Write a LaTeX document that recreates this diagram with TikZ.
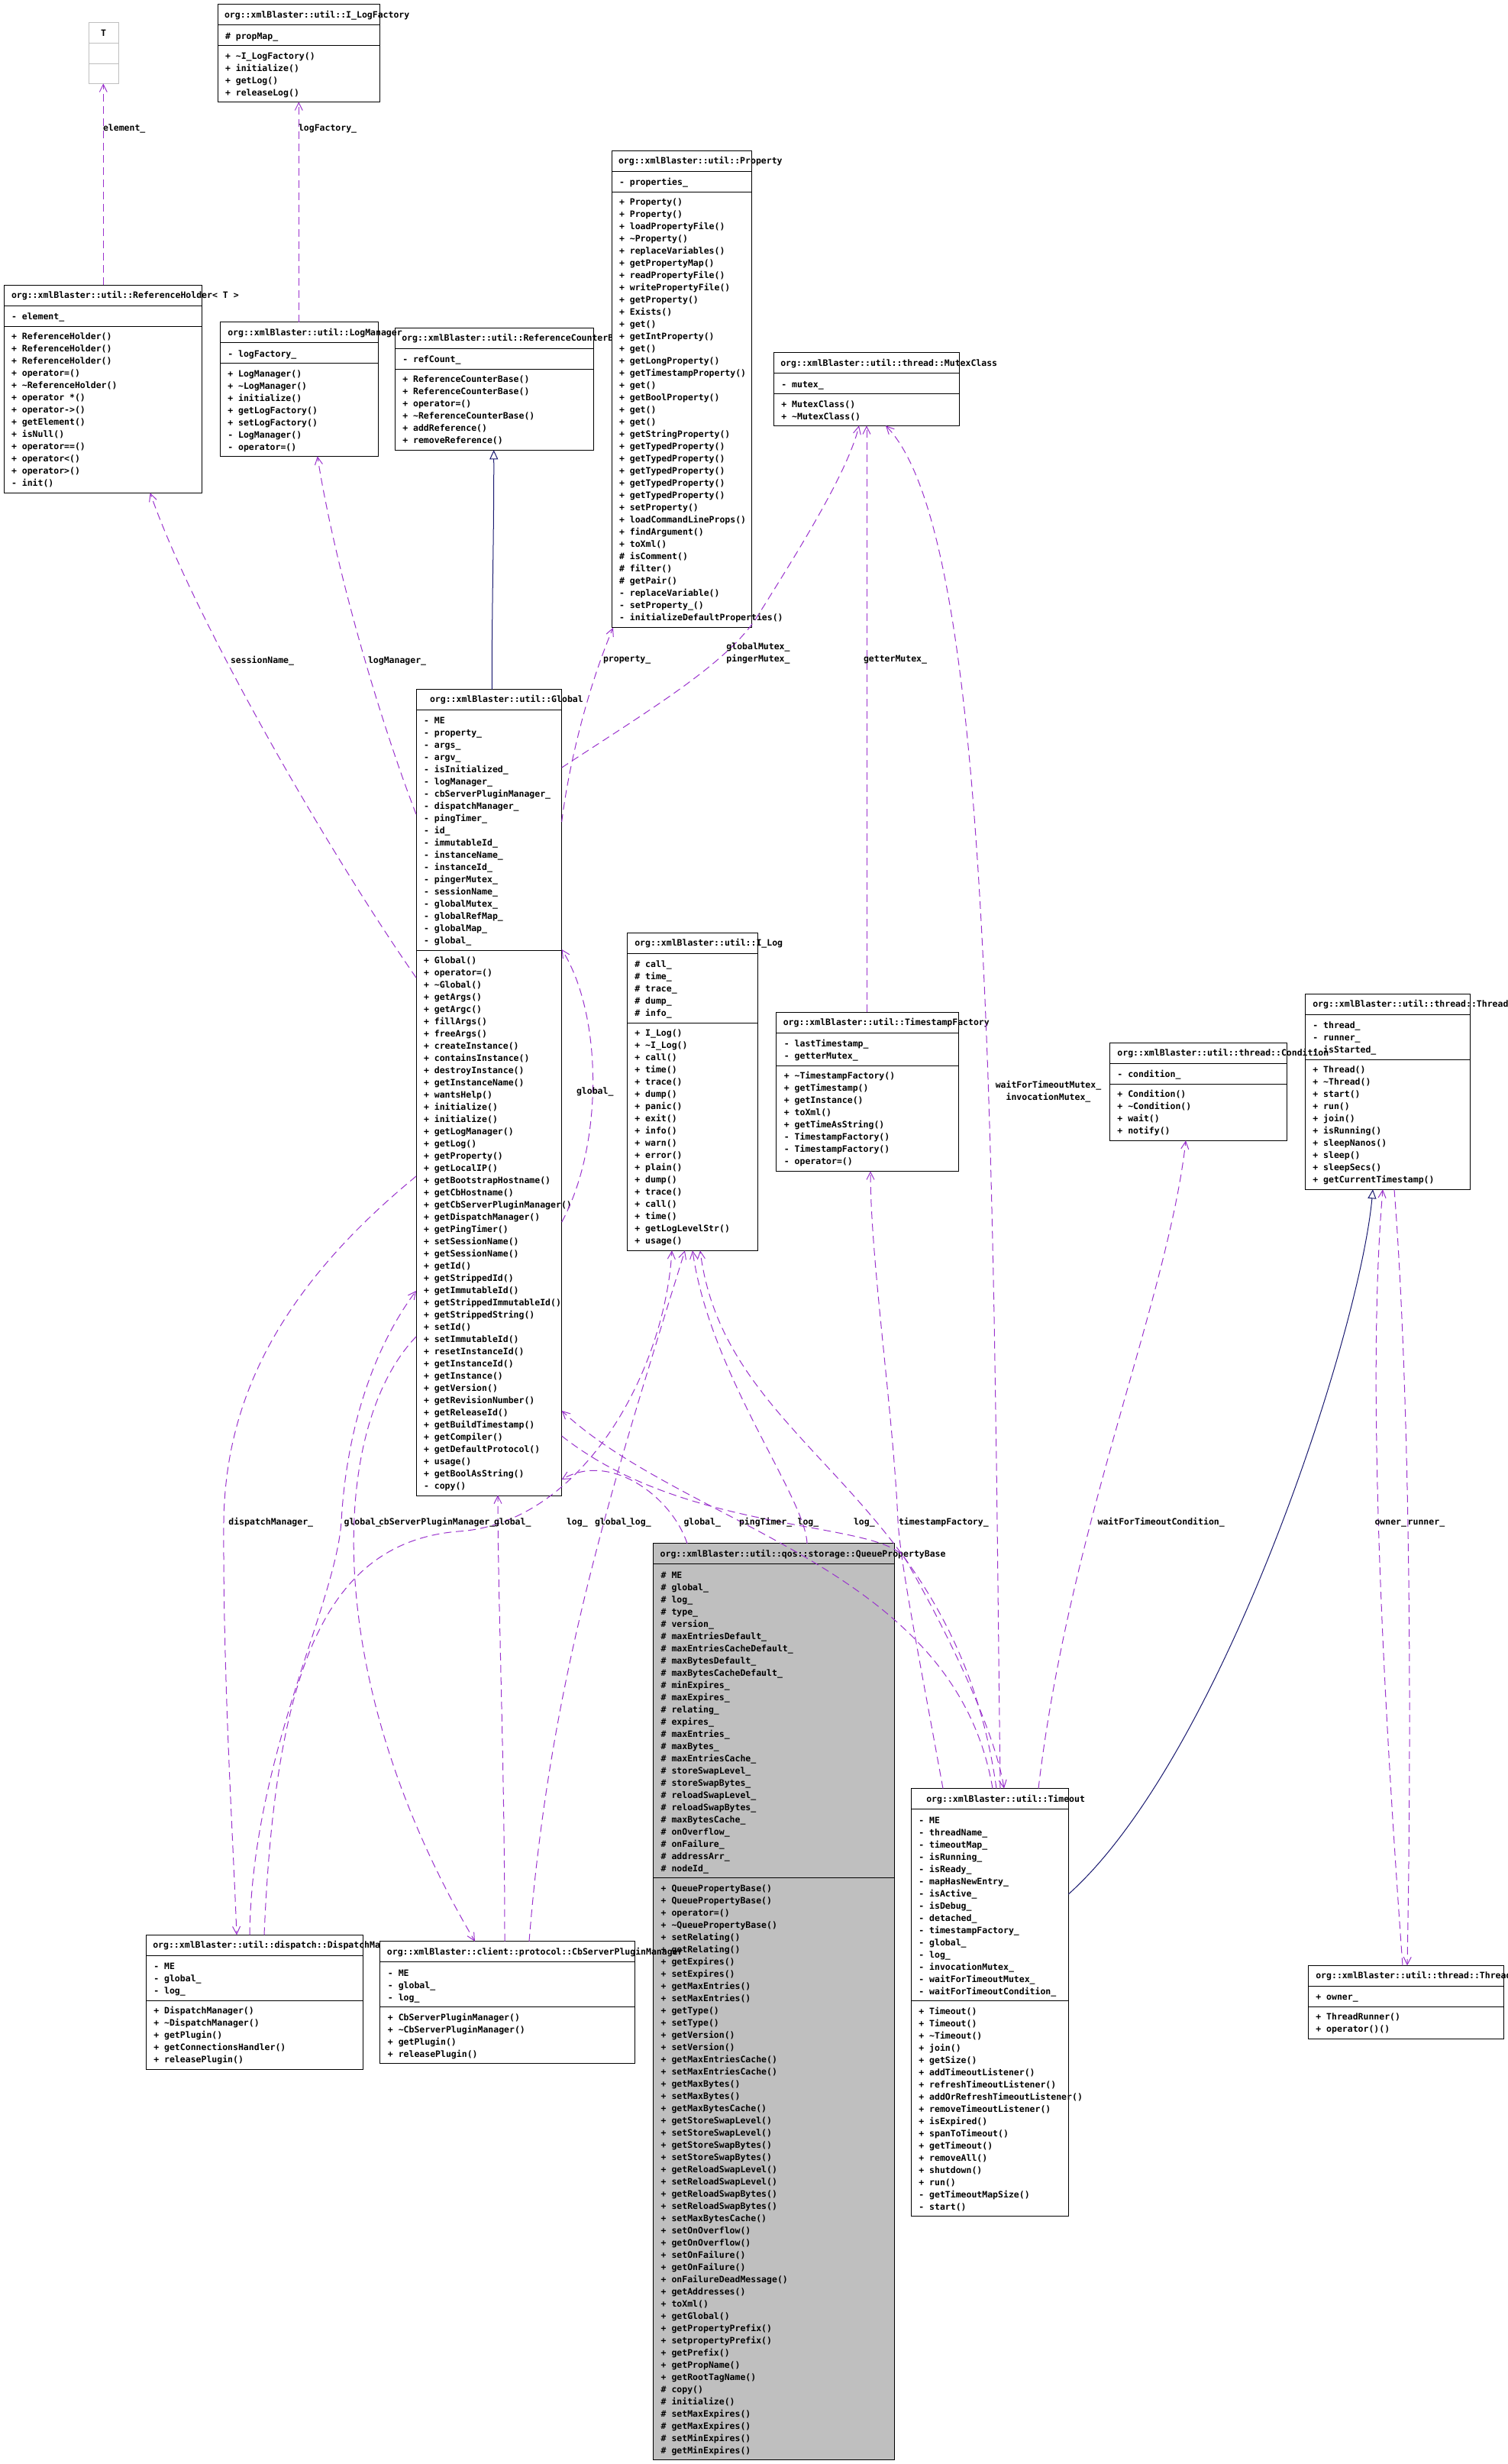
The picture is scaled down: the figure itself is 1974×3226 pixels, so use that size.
\documentclass[tikz,border=0pt]{standalone}
\usepackage{fontspec}
\newfontfamily\dx{DejaVu Sans Mono}
\usetikzlibrary{arrows.meta,calc}
\definecolor{edgep}{HTML}{9A32CD}
\definecolor{inh}{HTML}{191970}
\definecolor{gr}{HTML}{BFBFBF}
\tikzset{
  box/.style={line width=1pt, inner sep=0pt, outer sep=0pt, anchor=north west},
  txt/.style={inner sep=0pt, outer sep=0pt, anchor=north west, align=left, font=\dx\bfseries\fontsize{11.5}{16}\selectfont},
  lbl/.style={inner sep=0pt, outer sep=0pt, anchor=base west, font=\dx\bfseries\fontsize{11.5}{16}\selectfont},
  lblc/.style={inner sep=0pt, outer sep=0pt, anchor=north, align=center, font=\dx\bfseries\fontsize{11.5}{16}\selectfont},
  use/.style={draw=edgep, line width=1pt, dash pattern=on 10pt off 6pt, -{Straight Barb[length=10pt,width=10pt]}},
  inherit/.style={draw=inh, line width=1pt, -{Triangle[open,length=12pt,width=11pt]}},
}
\newcommand\ubox[8]{%
  \pgfmathsetmacro\ya{#4+27}\pgfmathsetmacro\yb{\ya+#5*16+11}\pgfmathsetmacro\yc{\yb+#6*16+10}%
  \node[box,draw=#7,fill=#8,minimum width={(#3-#2)*1pt},minimum height={(\yc-#4)*1pt}] (#1) at (#2,#4) {};
  \draw[draw=#7,line width=1pt] (#2,\ya) -- (#3,\ya) (#2,\yb) -- (#3,\yb);
  \xdef\bx{#2}\xdef\byt{#4}\xdef\bya{\ya}\xdef\byb{\yb}%
  \expandafter\xdef\csname ox#1\endcsname{#2}\expandafter\xdef\csname oy#1\endcsname{#4}%
}
\newcommand\utitle[3]{\node[txt] (#1) at (\bx+#2,\byt+7.5) {\rule{0pt}{10pt}#3};}
\newcommand\uattr[2]{\node[txt] (#1) at (\bx+10,\bya+8.5) {\rule{0pt}{10pt}#2};}
\newcommand\umeth[2]{\node[txt] (#1) at (\bx+10,\byb+7.5) {\rule{0pt}{10pt}#2};}
\newcommand\pp[3]{($(#1.north west)+({#2-\csname ox#1\endcsname},{#3-\csname oy#1\endcsname})$)}
\newcommand\tl{\textasciitilde}
\begin{document}
\begin{tikzpicture}[x=1pt,y=-1pt]
\useasboundingbox (0,0) rectangle (1974,3226);
\fill[white] (0,0) rectangle (1974,3226);

% T
\node[box,draw=gr,fill=white,minimum width=39pt,minimum height=80pt] (tb) at (116,29.5) {};
\expandafter\xdef\csname oxtb\endcsname{116}\expandafter\xdef\csname oytb\endcsname{29.5}
\draw[draw=gr,line width=1pt] (116,56.4) -- (155,56.4) (116,83.3) -- (155,83.3);
\node[lbl,anchor=base] (tb-t) at (135.5,47.8) {T};

% I_LogFactory
\ubox{lf}{285}{497}{5.5}{1}{4}{black}{white}
\utitle{lf-t}{9}{org::xmlBlaster::util::I\_LogFactory}
\uattr{lf-a}{\# propMap\_}
\umeth{lf-m}{+ \tl I\_LogFactory()\\+ initialize()\\+ getLog()\\+ releaseLog()}

% ReferenceHolder
\ubox{rh}{5}{264}{373.3}{1}{13}{black}{white}
\utitle{rh-t}{10}{org::xmlBlaster::util::ReferenceHolder< T >}
\uattr{rh-a}{- element\_}
\umeth{rh-m}{+ ReferenceHolder()\\+ ReferenceHolder()\\+ ReferenceHolder()\\+ operator=()\\+ \tl ReferenceHolder()\\+ operator *()\\+ operator->()\\+ getElement()\\+ isNull()\\+ operator==()\\+ operator<()\\+ operator>()\\- init()}

% ReferenceCounterBase
\ubox{rcb}{517.3}{777.3}{429.3}{1}{6}{black}{white}
\utitle{rcb-t}{9}{org::xmlBlaster::util::ReferenceCounterBase}
\uattr{rcb-a}{- refCount\_}
\umeth{rcb-m}{+ ReferenceCounterBase()\\+ ReferenceCounterBase()\\+ operator=()\\+ \tl ReferenceCounterBase()\\+ addReference()\\+ removeReference()}

% LogManager
\ubox{lm}{288.3}{495.3}{421.7}{1}{7}{black}{white}
\utitle{lm-t}{10}{org::xmlBlaster::util::LogManager}
\uattr{lm-a}{- logFactory\_}
\umeth{lm-m}{+ LogManager()\\+ \tl LogManager()\\+ initialize()\\+ getLogFactory()\\+ setLogFactory()\\- LogManager()\\- operator=()}

% Property
\ubox{pr}{801}{984.3}{197.3}{1}{35}{black}{white}
\utitle{pr-t}{9}{org::xmlBlaster::util::Property}
\uattr{pr-a}{- properties\_}
\umeth{pr-m}{+ Property()\\+ Property()\\+ loadPropertyFile()\\+ \tl Property()\\+ replaceVariables()\\+ getPropertyMap()\\+ readPropertyFile()\\+ writePropertyFile()\\+ getProperty()\\+ Exists()\\+ get()\\+ getIntProperty()\\+ get()\\+ getLongProperty()\\+ getTimestampProperty()\\+ get()\\+ getBoolProperty()\\+ get()\\+ get()\\+ getStringProperty()\\+ getTypedProperty()\\+ getTypedProperty()\\+ getTypedProperty()\\+ getTypedProperty()\\+ getTypedProperty()\\+ setProperty()\\+ loadCommandLineProps()\\+ findArgument()\\+ toXml()\\\# isComment()\\\# filter()\\\# getPair()\\- replaceVariable()\\- setProperty\_()\\- initializeDefaultProperties()}

% MutexClass
\ubox{mx}{1013.3}{1256.7}{461.7}{1}{2}{black}{white}
\utitle{mx-t}{9}{org::xmlBlaster::util::thread::MutexClass}
\uattr{mx-a}{- mutex\_}
\umeth{mx-m}{+ MutexClass()\\+ \tl MutexClass()}

% Global
\ubox{gl}{545}{735.7}{902.4}{19}{44}{black}{white}
\utitle{gl-t}{18}{org::xmlBlaster::util::Global}
\uattr{gl-a}{- ME\\- property\_\\- args\_\\- argv\_\\- isInitialized\_\\- logManager\_\\- cbServerPluginManager\_\\- dispatchManager\_\\- pingTimer\_\\- id\_\\- immutableId\_\\- instanceName\_\\- instanceId\_\\- pingerMutex\_\\- sessionName\_\\- globalMutex\_\\- globalRefMap\_\\- globalMap\_\\- global\_}
\umeth{gl-m}{+ Global()\\+ operator=()\\+ \tl Global()\\+ getArgs()\\+ getArgc()\\+ fillArgs()\\+ freeArgs()\\+ createInstance()\\+ containsInstance()\\+ destroyInstance()\\+ getInstanceName()\\+ wantsHelp()\\+ initialize()\\+ initialize()\\+ getLogManager()\\+ getLog()\\+ getProperty()\\+ getLocalIP()\\+ getBootstrapHostname()\\+ getCbHostname()\\+ getCbServerPluginManager()\\+ getDispatchManager()\\+ getPingTimer()\\+ setSessionName()\\+ getSessionName()\\+ getId()\\+ getStrippedId()\\+ getImmutableId()\\+ getStrippedImmutableId()\\+ getStrippedString()\\+ setId()\\+ setImmutableId()\\+ resetInstanceId()\\+ getInstanceId()\\+ getInstance()\\+ getVersion()\\+ getRevisionNumber()\\+ getReleaseId()\\+ getBuildTimestamp()\\+ getCompiler()\\+ getDefaultProtocol()\\+ usage()\\+ getBoolAsString()\\- copy()}

% I_Log
\ubox{il}{821.3}{992.7}{1221}{5}{18}{black}{white}
\utitle{il-t}{10}{org::xmlBlaster::util::I\_Log}
\uattr{il-a}{\# call\_\\\# time\_\\\# trace\_\\\# dump\_\\\# info\_}
\umeth{il-m}{+ I\_Log()\\+ \tl I\_Log()\\+ call()\\+ time()\\+ trace()\\+ dump()\\+ panic()\\+ exit()\\+ info()\\+ warn()\\+ error()\\+ plain()\\+ dump()\\+ trace()\\+ call()\\+ time()\\+ getLogLevelStr()\\+ usage()}

% TimestampFactory
\ubox{tsf}{1016.8}{1255.3}{1325.3}{2}{8}{black}{white}
\utitle{tsf-t}{9}{org::xmlBlaster::util::TimestampFactory}
\uattr{tsf-a}{- lastTimestamp\_\\- getterMutex\_}
\umeth{tsf-m}{+ \tl TimestampFactory()\\+ getTimestamp()\\+ getInstance()\\+ toXml()\\+ getTimeAsString()\\- TimestampFactory()\\- TimestampFactory()\\- operator=()}

% Thread
\ubox{th}{1709.3}{1925.5}{1301.3}{3}{10}{black}{white}
\utitle{th-t}{10}{org::xmlBlaster::util::thread::Thread}
\uattr{th-a}{- thread\_\\- runner\_\\- isStarted\_}
\umeth{th-m}{+ Thread()\\+ \tl Thread()\\+ start()\\+ run()\\+ join()\\+ isRunning()\\+ sleepNanos()\\+ sleep()\\+ sleepSecs()\\+ getCurrentTimestamp()}

% Condition
\ubox{cd}{1453.4}{1685.1}{1365.3}{1}{4}{black}{white}
\utitle{cd-t}{10}{org::xmlBlaster::util::thread::Condition}
\uattr{cd-a}{- condition\_}
\umeth{cd-m}{+ Condition()\\+ \tl Condition()\\+ wait()\\+ notify()}

% QueuePropertyBase
\ubox{qpb}{855.7}{1171.7}{2020.9}{25}{47}{black}{gr}
\utitle{qpb-t}{9}{org::xmlBlaster::util::qos::storage::QueuePropertyBase}
\uattr{qpb-a}{\# ME\\\# global\_\\\# log\_\\\# type\_\\\# version\_\\\# maxEntriesDefault\_\\\# maxEntriesCacheDefault\_\\\# maxBytesDefault\_\\\# maxBytesCacheDefault\_\\\# minExpires\_\\\# maxExpires\_\\\# relating\_\\\# expires\_\\\# maxEntries\_\\\# maxBytes\_\\\# maxEntriesCache\_\\\# storeSwapLevel\_\\\# storeSwapBytes\_\\\# reloadSwapLevel\_\\\# reloadSwapBytes\_\\\# maxBytesCache\_\\\# onOverflow\_\\\# onFailure\_\\\# addressArr\_\\\# nodeId\_}
\umeth{qpb-m}{+ QueuePropertyBase()\\+ QueuePropertyBase()\\+ operator=()\\+ \tl QueuePropertyBase()\\+ setRelating()\\+ getRelating()\\+ getExpires()\\+ setExpires()\\+ getMaxEntries()\\+ setMaxEntries()\\+ getType()\\+ setType()\\+ getVersion()\\+ setVersion()\\+ getMaxEntriesCache()\\+ setMaxEntriesCache()\\+ getMaxBytes()\\+ setMaxBytes()\\+ getMaxBytesCache()\\+ getStoreSwapLevel()\\+ setStoreSwapLevel()\\+ getStoreSwapBytes()\\+ setStoreSwapBytes()\\+ getReloadSwapLevel()\\+ setReloadSwapLevel()\\+ getReloadSwapBytes()\\+ setReloadSwapBytes()\\+ setMaxBytesCache()\\+ setOnOverflow()\\+ getOnOverflow()\\+ setOnFailure()\\+ getOnFailure()\\+ onFailureDeadMessage()\\+ getAddresses()\\+ toXml()\\+ getGlobal()\\+ getPropertyPrefix()\\+ setpropertyPrefix()\\+ getPrefix()\\+ getPropName()\\+ getRootTagName()\\\# copy()\\\# initialize()\\\# setMaxExpires()\\\# getMaxExpires()\\\# setMinExpires()\\\# getMinExpires()}

% Timeout
\ubox{to}{1193.3}{1399.3}{2341.5}{15}{17}{black}{white}
\utitle{to-t}{20}{org::xmlBlaster::util::Timeout}
\uattr{to-a}{- ME\\- threadName\_\\- timeoutMap\_\\- isRunning\_\\- isReady\_\\- mapHasNewEntry\_\\- isActive\_\\- isDebug\_\\- detached\_\\- timestampFactory\_\\- global\_\\- log\_\\- invocationMutex\_\\- waitForTimeoutMutex\_\\- waitForTimeoutCondition\_}
\umeth{to-m}{+ Timeout()\\+ Timeout()\\+ \tl Timeout()\\+ join()\\+ getSize()\\+ addTimeoutListener()\\+ refreshTimeoutListener()\\+ addOrRefreshTimeoutListener()\\+ removeTimeoutListener()\\+ isExpired()\\+ spanToTimeout()\\+ getTimeout()\\+ removeAll()\\+ shutdown()\\+ run()\\- getTimeoutMapSize()\\- start()}

% DispatchManager
\ubox{dm}{191.3}{475.3}{2533.3}{3}{5}{black}{white}
\utitle{dm-t}{9}{org::xmlBlaster::util::dispatch::DispatchManager}
\uattr{dm-a}{- ME\\- global\_\\- log\_}
\umeth{dm-m}{+ DispatchManager()\\+ \tl DispatchManager()\\+ getPlugin()\\+ getConnectionsHandler()\\+ releasePlugin()}

% CbServerPluginManager
\ubox{cb}{497.9}{831.3}{2541.7}{3}{4}{black}{white}
\utitle{cb-t}{9}{org::xmlBlaster::client::protocol::CbServerPluginManager}
\uattr{cb-a}{- ME\\- global\_\\- log\_}
\umeth{cb-m}{+ CbServerPluginManager()\\+ \tl CbServerPluginManager()\\+ getPlugin()\\+ releasePlugin()}

% ThreadRunner
\ubox{tr}{1713.3}{1969.3}{2573.3}{1}{2}{black}{white}
\utitle{tr-t}{10}{org::xmlBlaster::util::thread::ThreadRunner}
\uattr{tr-a}{+ owner\_}
\umeth{tr-m}{+ ThreadRunner()\\+ operator()()}

% ---------- connectors ----------
\draw[use] \pp{rh}{135.3}{373.3} -- \pp{tb}{135.3}{109.4};
\node[lbl] (l-el) at (135,171) {element\_};
\draw[use] \pp{lm}{391.3}{421.7} -- \pp{lf}{391.3}{133.4};
\node[lbl] (l-lf) at (391,171) {logFactory\_};
\draw[inherit] \pp{gl}{644.3}{902.4} .. controls (644,800) and (647,700) .. \pp{rcb}{646.7}{589.3};
\draw[use] \pp{gl}{545}{1280} .. controls (420,1100) and (250,800) .. \pp{rh}{196.7}{645.3};
\node[lbl] (l-sn) at (302,868) {sessionName\_};
\draw[use] \pp{gl}{545}{1066} .. controls (500,950) and (440,750) .. \pp{lm}{415.7}{597.3};
\node[lbl] (l-lm) at (482,868) {logManager\_};
\draw[use] \pp{gl}{735.7}{1076} .. controls (745,1000) and (770,900) .. \pp{pr}{803}{821.8};
\node[lbl] (l-pr) at (790,866) {property\_};
\draw[use] \pp{gl}{735.7}{1005} .. controls (850,930) and (950,870) .. (990,810) .. controls (1040,730) and (1110,620) .. \pp{mx}{1125}{557.3};
\node[lblc] (l-gm) at (993,842) {globalMutex\_\\pingerMutex\_};
\draw[use] \pp{tsf}{1135}{1325.3} -- \pp{mx}{1135}{557.3};
\node[lbl] (l-gt) at (1131,866) {getterMutex\_};
\draw[use] \pp{to}{1310}{2341.5} .. controls (1300,1500) and (1300,700) .. \pp{mx}{1160}{557.3};
\node[lblc] (l-wm) at (1373,1415) {waitForTimeoutMutex\_\\invocationMutex\_};
\draw[use] \pp{gl}{735.7}{1600} .. controls (790,1500) and (790,1330) .. \pp{gl}{735.7}{1243};
\node[lbl] (l-gs) at (755,1432) {global\_};

\draw[use] \pp{gl}{545}{1540} .. controls (350,1700) and (295,1850) .. (293,1992) .. controls (292,2200) and (305,2400) .. \pp{dm}{310}{2533.3};
\draw[use] \pp{dm}{327}{2533.3} .. controls (330,2300) and (440,2100) .. (447,1992) .. controls (455,1850) and (500,1750) .. \pp{gl}{545}{1690};
\draw[use] \pp{gl}{545}{1750} .. controls (430,1870) and (420,2200) .. \pp{cb}{622}{2541.7};
\draw[use] \pp{cb}{661}{2541.7} .. controls (661,2300) and (652,2100) .. \pp{gl}{652}{1957.5};
\draw[use] \pp{dm}{346}{2533.3} .. controls (360,2200) and (420,2020) .. (600,2005) .. controls (760,1995) and (870,1800) .. \pp{il}{880}{1637.3};
\draw[use] \pp{cb}{693}{2541.7} .. controls (720,2200) and (800,1950) .. \pp{il}{897}{1637.3};
\draw[use] \pp{qpb}{900}{2020.9} .. controls (880,1960) and (800,1900) .. \pp{gl}{735.7}{1937};
\draw[use] \pp{qpb}{1057}{2020.9} .. controls (1055,1960) and (930,1800) .. \pp{il}{907}{1637.3};
\draw[use] \pp{to}{1300}{2341.5} .. controls (1250,2050) and (900,2000) .. \pp{gl}{735.7}{1847};
\draw[use] \pp{to}{1305}{2341.5} .. controls (1250,1950) and (950,1900) .. \pp{il}{917}{1637.3};
\draw[use] \pp{gl}{735.7}{1880} .. controls (900,2010) and (1150,1990) .. (1185,2040) .. controls (1220,2100) and (1300,2250) .. \pp{to}{1315}{2341.5};
\draw[use] \pp{to}{1235}{2341.5} .. controls (1200,2150) and (1180,2050) .. (1176,1992) .. controls (1170,1850) and (1140,1650) .. \pp{tsf}{1140}{1533.3};
\draw[use] \pp{to}{1360}{2341.5} .. controls (1400,2000) and (1530,1700) .. \pp{cd}{1553}{1493.3};
\draw[inherit] \pp{to}{1399.3}{2480} .. controls (1600,2300) and (1780,1750) .. \pp{th}{1798}{1557.3};
\draw[use] \pp{tr}{1837}{2573.3} .. controls (1810,2200) and (1790,1800) .. \pp{th}{1811}{1557.3};
\draw[use] \pp{th}{1826}{1557.3} .. controls (1845,1800) and (1850,2200) .. \pp{tr}{1843}{2573.3};

\node[lbl] (l1) at (299.4,1996) {dispatchManager\_};
\node[lbl] (l2) at (450.6,1996) {global\_};
\node[lbl] (l3) at (496,1996) {cbServerPluginManager\_};
\node[lbl] (l4) at (647,1996) {global\_};
\node[lbl] (l5) at (742,1996) {log\_};
\node[lbl] (l6) at (779,1996) {global\_};
\node[lbl] (l7) at (825,1996) {log\_};
\node[lbl] (l8) at (895.5,1996) {global\_};
\node[lbl] (l9) at (968,1996) {pingTimer\_};
\node[lbl] (l10) at (1044.6,1996) {log\_};
\node[lbl] (l11) at (1118,1996) {log\_};
\node[lbl] (l12) at (1177,1996) {timestampFactory\_};
\node[lbl] (l13) at (1437.6,1996) {waitForTimeoutCondition\_};
\node[lbl] (l14) at (1800.5,1996) {owner\_};
\node[lbl] (l15) at (1843.7,1996) {runner\_};
\end{tikzpicture}
\end{document}
